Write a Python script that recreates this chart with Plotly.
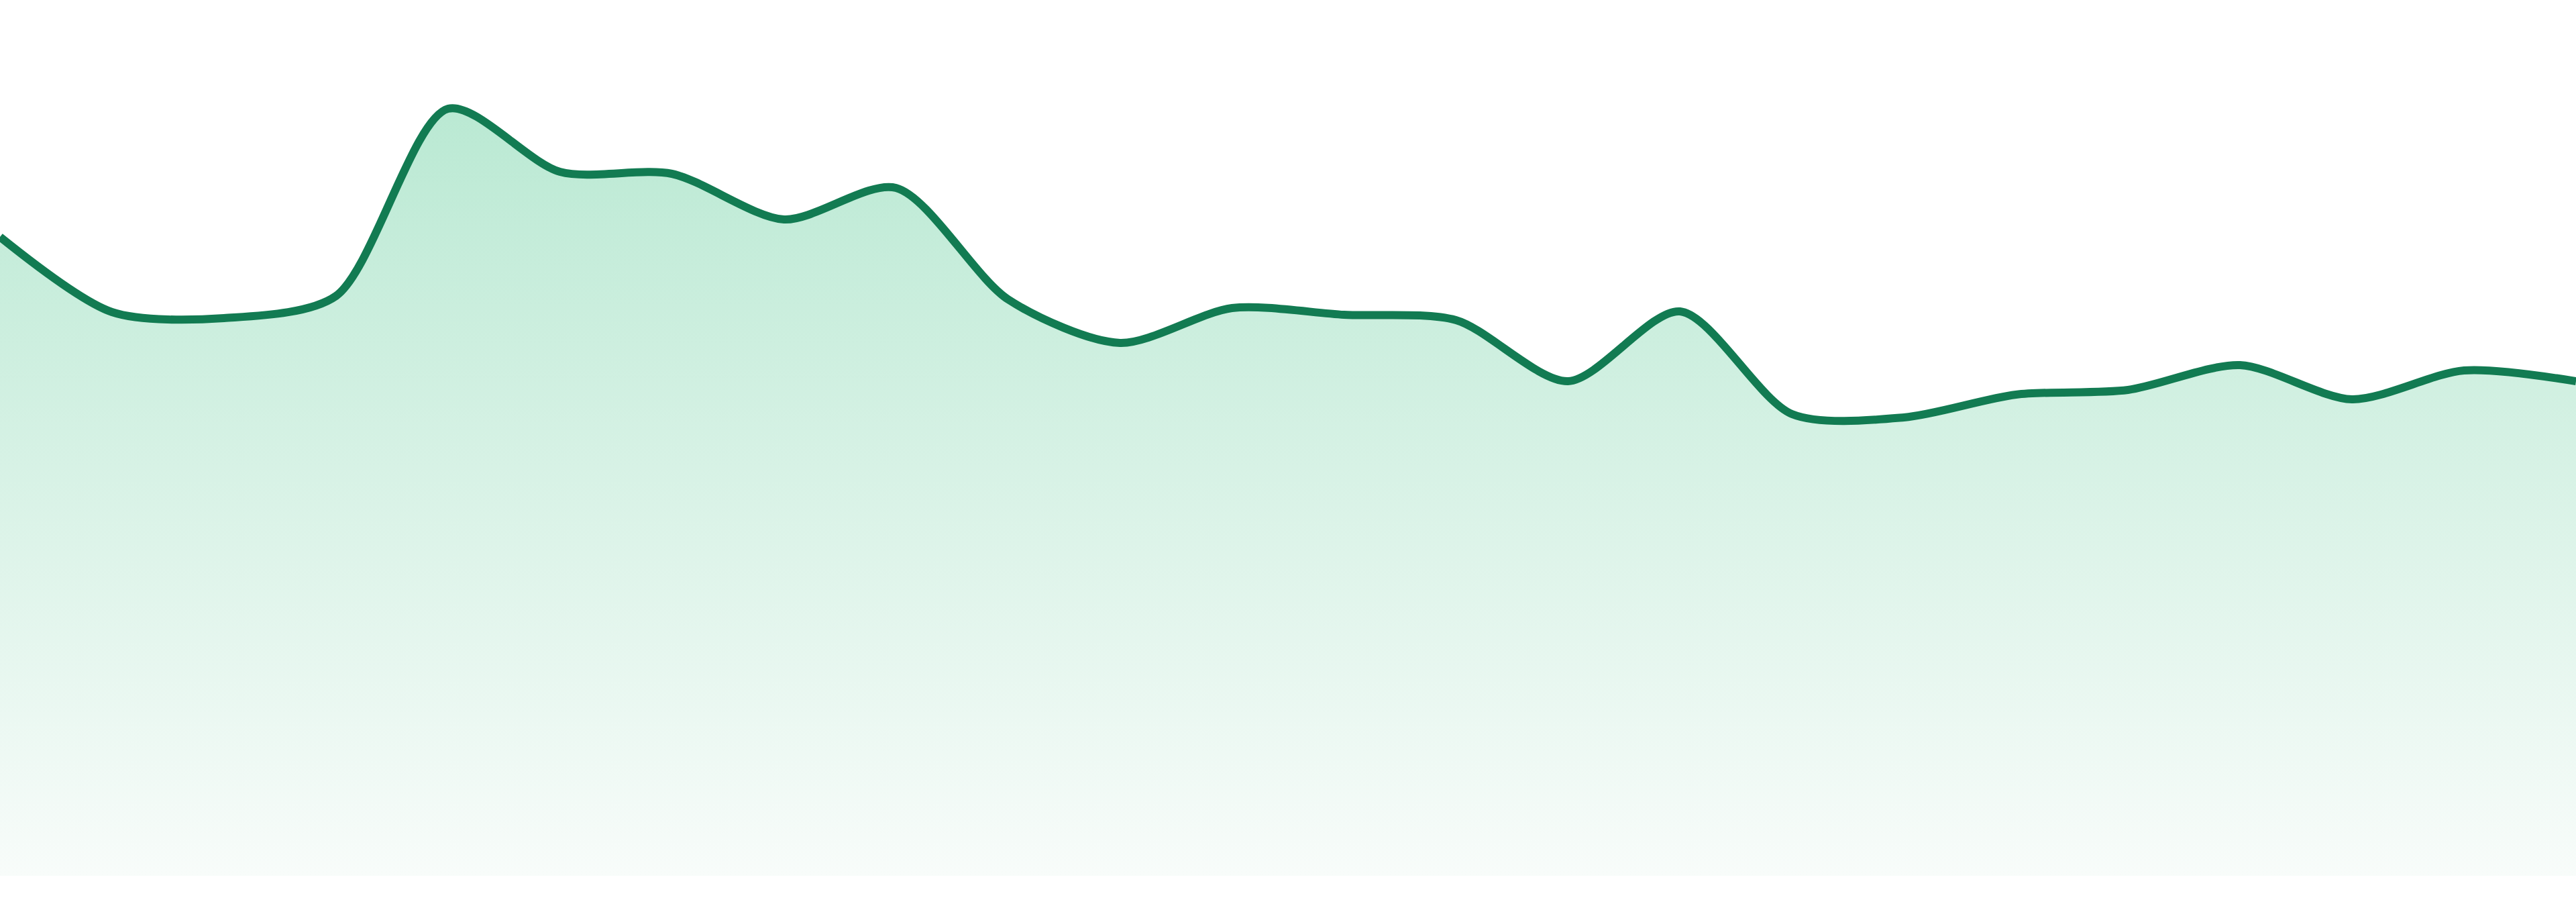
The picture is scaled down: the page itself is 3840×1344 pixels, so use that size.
import plotly.graph_objects as go

# hourly readings, 24 points
hours = [f"{h:02d}:00" for h in range(24)]
values = [95.2, 84.0, 83.1, 86.4, 114.3, 104.9, 104.6, 97.8,
          102.5, 85.9, 79.4, 84.6, 83.6, 82.8, 73.7, 84.1,
          68.8, 68.3, 71.7, 72.4, 76.1, 71.0, 75.3, 73.7]

line_color = "#127b52"
fill_top = "rgb(186,233,211)"
fill_bottom = "rgb(248,252,250)"

fig = go.Figure()
fig.add_trace(
    go.Scatter(
        x=hours,
        y=values,
        mode="lines",
        line=dict(color=line_color, width=12, shape="spline", smoothing=0.8),
        fill="tozeroy",
        fillgradient=dict(
            type="vertical",
            start=0,
            stop=max(values),
            colorscale=[[0, fill_bottom], [1, fill_top]],
        ),
        hoverinfo="skip",
    )
)

fig.update_layout(
    width=3840,
    height=1344,
    margin=dict(l=0, r=0, t=0, b=39),
    paper_bgcolor="white",
    plot_bgcolor="white",
    showlegend=False,
    xaxis=dict(visible=False, range=[0, len(hours) - 1]),
    yaxis=dict(visible=False, range=[0, 130.5]),
)

# drop the default page margin so the plot sits flush with the window
fig.write_html(
    "out.html",
    config={"displayModeBar": False},
    post_script="document.body.style.margin='0';",
)
